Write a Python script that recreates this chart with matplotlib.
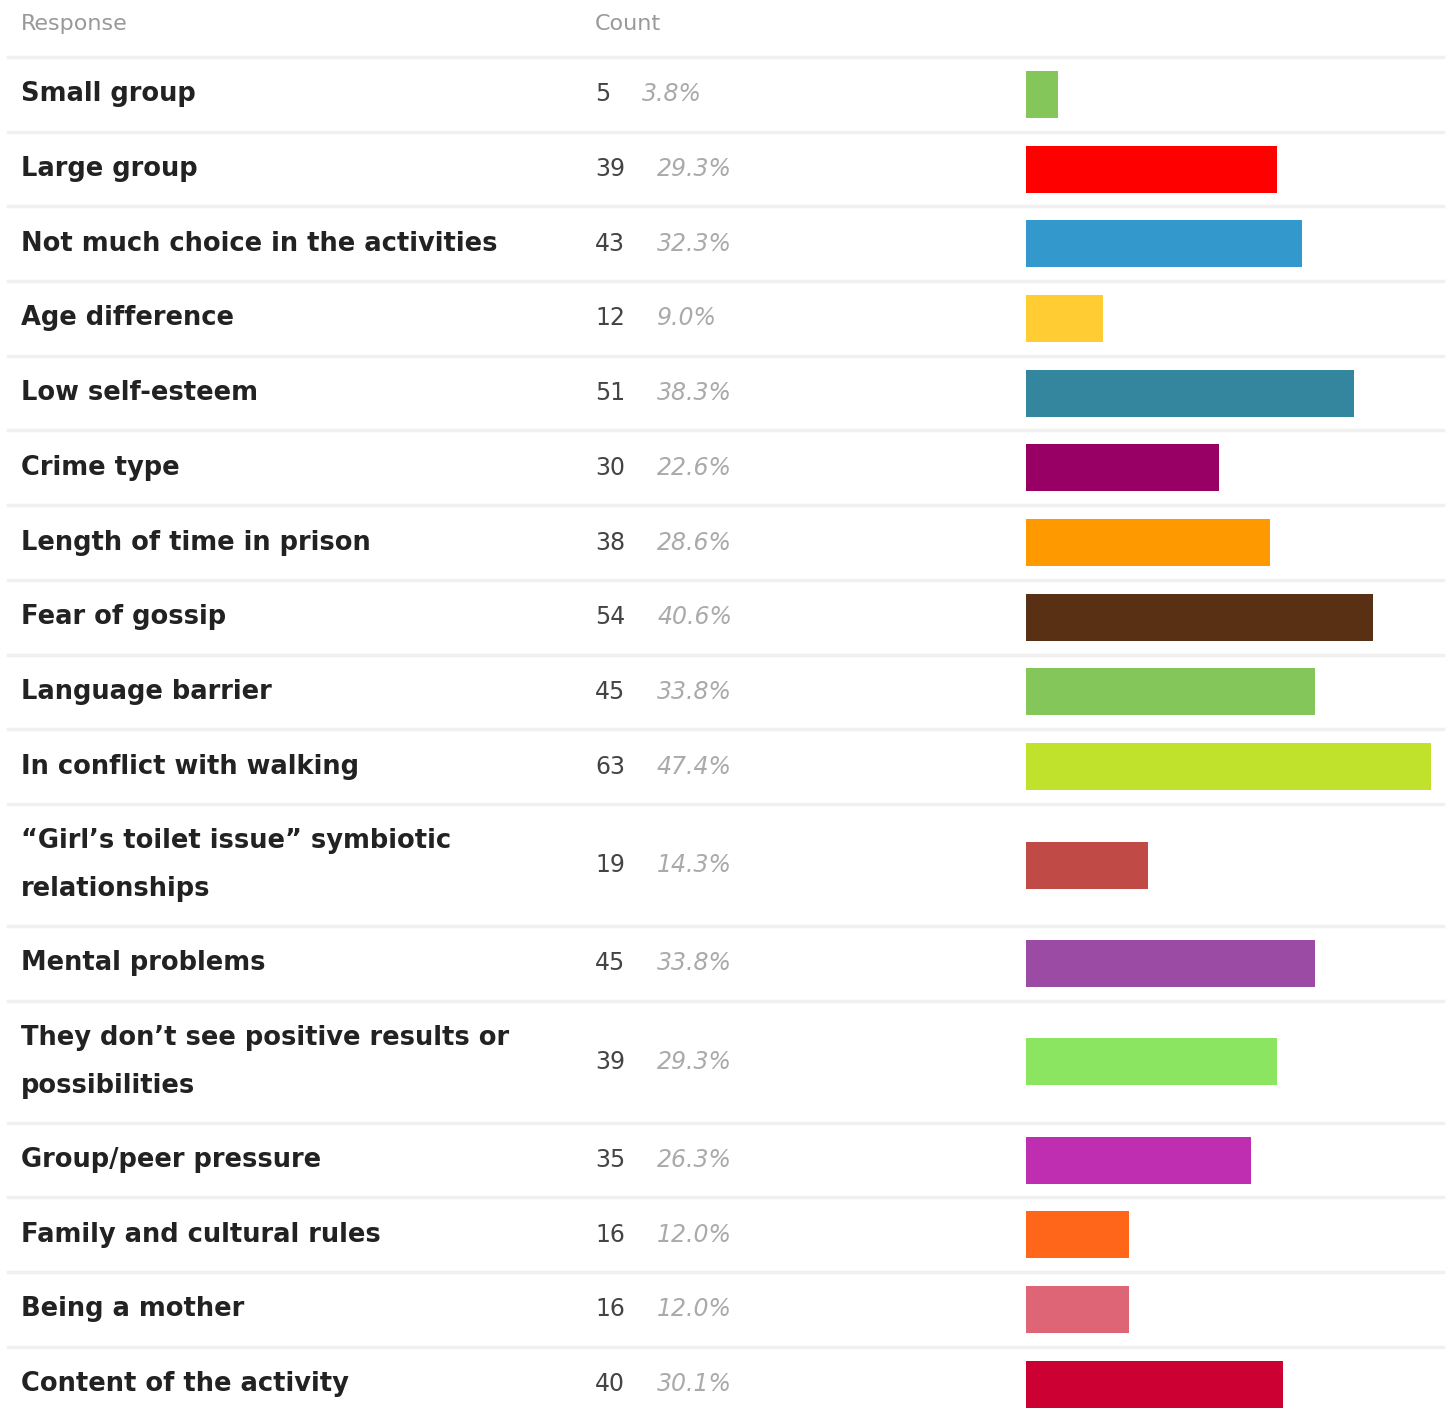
import matplotlib.pyplot as plt

# data
responses = [
    "Small group",
    "Large group",
    "Not much choice in the activities",
    "Age difference",
    "Low self-esteem",
    "Crime type",
    "Length of time in prison",
    "Fear of gossip",
    "Language barrier",
    "In conflict with walking",
    "\u201cGirl\u2019s toilet issue\u201d symbiotic\nrelationships",
    "Mental problems",
    "They don\u2019t see positive results or\npossibilities",
    "Group/peer pressure",
    "Family and cultural rules",
    "Being a mother",
    "Content of the activity",
]
counts = [5, 39, 43, 12, 51, 30, 38, 54, 45, 63, 19, 45, 39, 35, 16, 16, 40]
percents = ["3.8%", "29.3%", "32.3%", "9.0%", "38.3%", "22.6%", "28.6%", "40.6%",
            "33.8%", "47.4%", "14.3%", "33.8%", "29.3%", "26.3%", "12.0%", "12.0%",
            "30.1%"]
colors = ["#85c65b", "#ff0000", "#3399cc", "#ffcc33", "#33869e", "#990066",
          "#ff9900", "#5a3014", "#85c65b", "#c0e22c", "#c04a45", "#9c4ba5",
          "#8ce561", "#bf2db0", "#ff661a", "#de6575", "#cc0033"]

W, H = 1447, 1412
fig = plt.figure(figsize=(W / 100, H / 100), dpi=100)

# text layer in pixel coordinates
ax = fig.add_axes([0, 0, 1, 1])
ax.set_xlim(0, W)
ax.set_ylim(H, 0)
ax.axis("off")

# bar layer: x in counts, y in the same pixel rows
bar_left, bar_right = 1026, 1431
bx = fig.add_axes([bar_left / W, 0, (bar_right - bar_left) / W, 1])
bx.set_xlim(0, max(counts))
bx.set_ylim(H, 0)
bx.axis("off")

head_col = "#999999"
ax.text(21, 24, "Response", fontsize=16, color=head_col, va="center")
ax.text(595, 24, "Count", fontsize=16, color=head_col, va="center")

top = 57
single, double = 74.7, 122
centers = []
ax.axhline(top, xmin=8 / W, xmax=1443 / W, color="#f0f0f0", lw=2.5)
for lab in responses:
    h = double if "\n" in lab else single
    c = top + h / 2
    centers.append(c)
    top += h
    ax.axhline(top, xmin=8 / W, xmax=1443 / W, color="#f0f0f0", lw=2.5)

for lab, n, p, c in zip(responses, counts, percents, centers):
    ax.text(21, c, lab, fontsize=18.5, fontweight="bold", color="#222222",
            va="center", linespacing=2.08)
    t = ax.text(595, c, str(n), fontsize=17, color="#444444", va="center")
    ax.annotate(p, xy=(1, 0.5), xycoords=t, xytext=(23, 0),
                textcoords="offset points", fontsize=17, style="italic",
                color="#aaaaaa", va="center")

bx.barh(centers, counts, height=47, color=colors, left=0)

fig.savefig("out.png", dpi=100)
